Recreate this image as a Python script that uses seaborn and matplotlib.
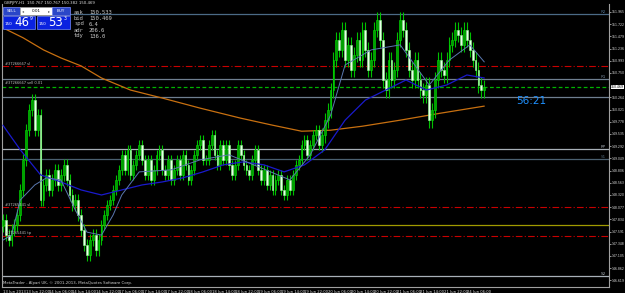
import matplotlib
matplotlib.use("Agg")
import matplotlib.pyplot as plt
import matplotlib.transforms as mtrans
from matplotlib.patches import Rectangle
import numpy as np
import pandas as pd
import seaborn as sns

# ---------------- data ----------------
close = [147.82, 147.52, 147.42, 147.62, 147.72,
         147.92, 148.42, 149.02, 149.61,
         150.01, 150.21, 149.61, 149.91,
         148.22,
         148.52, 148.72, 148.42, 148.62, 148.82, 148.52, 148.72,
         148.92, 148.62, 148.32, 148.12, 148.22, 147.92, 147.62,
         147.32, 147.12, 147.42, 147.52, 147.22, 147.42,
         147.72, 147.92, 148.12, 148.22, 148.42, 148.62, 148.82,
         149.12, 148.82, 149.22, 148.72, 148.92, 149.12, 149.32,
         149.02, 148.72, 149.02, 148.62, 148.82, 149.12, 149.22, 148.82,
         148.72, 149.02, 148.62, 148.82, 149.02, 148.72, 149.12,
         148.92, 148.62, 148.82, 149.12, 149.32, 149.41, 149.02, 149.02,
         149.32, 149.51, 149.12, 148.92, 149.32, 149.02, 149.32, 148.92,
         148.72, 148.92, 149.32, 149.12, 148.92, 148.82, 148.72, 149.02,
         149.22, 148.82, 148.62, 148.82, 148.52, 148.72, 148.42, 148.62,
         148.72, 148.42, 148.32, 148.62, 148.42, 148.72, 148.92,
         149.02, 149.32, 149.41, 149.12, 149.32, 149.51, 149.61, 149.32,
         149.51, 149.81, 150.01, 150.41, 151.01,
         151.41, 151.21, 151.61, 151.01, 151.31, 150.81, 151.11,
         151.41, 151.01, 151.61, 151.21, 150.81, 151.01, 151.61,
         151.81, 151.41, 150.61, 150.41, 151.01, 150.61, 150.81,
         151.41, 151.81, 151.61, 151.21, 150.81, 150.61, 151.01,
         150.61, 150.41, 150.31, 150.51, 149.81, 150.01,
         150.61, 151.01, 150.81, 150.70, 151.01, 151.31,
         151.41, 151.61, 151.51, 151.31, 151.61, 151.41, 151.21,
         151.01, 150.81, 150.51, 150.41, 150.469]
open_ = [147.70] + close[:-1]
wick = [0.12] * 34 + [0.10] * 76 + [0.15] * 57

ma_orange_idx = [0, 7, 14, 20, 27, 34, 44, 55, 68, 82, 93, 103, 113, 124, 137, 151, 166]
ma_orange_val = [151.65, 151.45, 151.21, 151.05, 150.89, 150.65, 150.41, 150.25, 150.05,
                 149.85, 149.71, 149.59, 149.61, 149.69, 149.81, 149.95, 150.09]
ma_blue_idx = [0, 6, 13, 20, 27, 34, 41, 48, 55, 62, 69, 76, 83, 90, 97, 104, 111, 118,
               125, 132, 139, 146, 153, 160, 166]
ma_blue_val = [149.71, 149.22, 148.72, 148.58, 148.42, 148.32, 148.42, 148.52, 148.58,
               148.66, 148.78, 148.92, 148.98, 148.92, 148.78, 148.92, 149.22, 149.81,
               150.21, 150.41, 150.61, 150.41, 150.51, 150.71, 150.65]
ma_fast_idx = [0, 3, 6, 11, 15, 20, 25, 29, 34, 38, 41, 47, 58, 68, 78, 89, 99, 106,
               113, 118, 127, 137, 147, 154, 161, 166]
ma_fast_val = [147.42, 147.52, 148.22, 148.52, 148.66, 148.62, 148.02, 147.58, 147.52,
               147.92, 148.32, 148.78, 148.82, 149.02, 149.12, 148.86, 148.62, 149.12,
               149.91, 150.91, 151.21, 151.31, 150.51, 151.01, 151.31, 150.97]

time_labels = ["13 Jun 2013", "13 Jun 22:00", "14 Jun 06:00", "14 Jun 14:00", "14 Jun 22:00",
               "17 Jun 06:00", "17 Jun 14:00", "17 Jun 22:00", "18 Jun 06:00", "18 Jun 14:00",
               "18 Jun 22:00", "19 Jun 06:00", "19 Jun 14:00", "19 Jun 22:00", "20 Jun 06:00",
               "20 Jun 14:00", "20 Jun 22:00", "21 Jun 06:00", "21 Jun 14:00", "21 Jun 22:00",
               "24 Jun 06:00"]
price_ticks = [151.965, 151.722, 151.479, 151.236, 150.993, 150.750, 150.264,
               150.021, 149.778, 149.535, 149.292, 149.049, 148.806, 148.563, 148.320,
               148.077, 147.834, 147.591, 147.348, 147.105, 146.862, 146.619]

levels_solid = [(151.925, "#4b6a86", "R2"), (150.630, "#6f7f90", "R1"), (150.272, "#6f7f90", ""),
                (149.236, "#a8b0b8", "PP"), (149.037, "#4b6070", "S1"), (146.706, "#a8b0b8", "S2")]
levels_red = [150.889, 148.081, 147.503]
level_olive = 147.722
bid, ask = 150.469, 150.533

# ---------------- figure ----------------
sns.set_theme(style="dark")
plt.rcParams['font.family'] = ['DejaVu Sans']
W, H = 625, 293
fig = plt.figure(figsize=(W / 100, H / 100), dpi=100, facecolor="black")
ax = fig.add_axes([2 / W, (H - 287) / H, 607 / W, 283 / H])
ax.set_facecolor("black")
ax.grid(False)

n = len(close)
xs = np.arange(n)
df = pd.DataFrame({"x": xs, "o": open_, "c": close, "w": wick})
df["top"] = df[["o", "c"]].max(axis=1)
df["bot"] = df[["o", "c"]].min(axis=1)
df["h"] = df["top"] + df["w"]
df["l"] = df["bot"] - df["w"]
df["up"] = df["c"] >= df["o"]

blend = mtrans.blended_transform_factory(ax.transAxes, ax.transData)

# reference lines (behind candles)
for p, col, lab in levels_solid:
    ax.axhline(p, color=col, lw=0.9, zorder=1)
    if lab:
        ax.text(0.995, p, lab, transform=blend, ha="right", va="bottom", fontsize=3, color=col)
for p in levels_red:
    ax.axhline(p, color="#c80000", lw=0.8, ls=(0, (6, 2, 1, 2)), zorder=1)
ax.axhline(level_olive, xmin=0.0, color="#a09a00", lw=0.9, zorder=1)
ax.axhline(bid, color="#00b400", lw=0.9, ls=(0, (3, 2)), zorder=1)

# candles
ax.vlines(df["x"], df["l"], df["h"], color="#00c000", lw=0.8, zorder=3)
up = df[df["up"]]
dn = df[~df["up"]]
ax.bar(up["x"], (up["top"] - up["bot"]).clip(lower=0.012), bottom=up["bot"], width=0.62,
       color="#00a000", edgecolor="#00e000", linewidth=0.4, zorder=4)
ax.bar(dn["x"], (dn["top"] - dn["bot"]).clip(lower=0.012), bottom=dn["bot"], width=0.62,
       color="#e8ffe8", edgecolor="#90ff90", linewidth=0.4, zorder=4)

# moving averages
sns.lineplot(x=ma_orange_idx, y=ma_orange_val, ax=ax, color="#c87010", lw=0.9, zorder=2)
sns.lineplot(x=ma_blue_idx, y=ma_blue_val, ax=ax, color="#1a1acc", lw=0.9, zorder=5)
sns.lineplot(x=ma_fast_idx, y=ma_fast_val, ax=ax, color="#5a78b0", lw=0.7, zorder=5)

ax.set_xlim(-0.3, 209.0)
ax.set_ylim(146.487, 152.124)
ax.set_xlabel("")
ax.set_ylabel("")

# axes styling
ax.spines["top"].set_visible(False)
for s in ["left", "right", "bottom"]:
    ax.spines[s].set_color("#a0a0a0")
    ax.spines[s].set_linewidth(0.8)
ax.yaxis.tick_right()
ax.set_yticks(price_ticks)
ax.set_yticklabels([f"{v:.3f}" for v in price_ticks])
ax.set_xticks(range(0, 8 * len(time_labels), 8))
ax.set_xticklabels(time_labels, ha="left")
ax.tick_params(axis="y", colors="#d0d0d0", labelsize=2.25, length=1.2, width=0.5, pad=0.5, labelcolor="#e0e0e0")
ax.tick_params(axis="x", colors="#d0d0d0", labelsize=2.7, length=2, width=0.5, pad=0.5, labelcolor="#e0e0e0")

ax.text(1.0035, bid, f"{bid:.3f}", transform=blend, fontsize=2.25, color="black", va="center",
        ha="left", bbox=dict(boxstyle="square,pad=0.1", fc="white", ec="none"), clip_on=False)

# helper: figure pixel coordinates
def fx(x):
    return x / W

def fy(y):
    return 1 - y / H

# title
fig.text(fx(4), fy(3), "GBPJPY,H1  150.767 150.767 150.382 150.469", fontsize=2.8,
         color="#e0e0e0", va="center")

# one-click panel
def rect(x0, y0, x1, y1, fc, ec):
    fig.patches.append(Rectangle((fx(x0), fy(y1)), (x1 - x0) / W, (y1 - y0) / H,
                                 transform=fig.transFigure, fc=fc, ec=ec, lw=0.5))

rect(3, 7, 20, 15, "#2a46c8", "#8090ff")
rect(20, 7, 52, 15, "#ffffff", "#a0a0a0")
rect(52, 7, 70, 15, "#2a46c8", "#8090ff")
rect(3, 16, 35, 29, "#0a22e0", "#7088ff")
rect(37, 16, 70, 29, "#0a22e0", "#7088ff")
fig.text(fx(11.5), fy(11), "SELL", fontsize=3, color="white", ha="center", va="center")
fig.text(fx(61), fy(11), "BUY", fontsize=3, color="white", ha="center", va="center")
fig.text(fx(36), fy(11), "0.01", fontsize=3, color="black", ha="center", va="center")
fig.text(fx(23), fy(11), "◂", fontsize=3, color="#606060", ha="center", va="center")
fig.text(fx(49), fy(11), "▸", fontsize=3, color="#606060", ha="center", va="center")
fig.text(fx(5), fy(24), "150", fontsize=3, color="white", va="center")
fig.text(fx(14), fy(22.5), "46", fontsize=8.5, color="white", va="center")
fig.text(fx(30), fy(18.5), "9", fontsize=3.3, color="white", va="center")
fig.text(fx(39), fy(24), "150", fontsize=3, color="white", va="center")
fig.text(fx(48), fy(22.5), "53", fontsize=8.5, color="white", va="center")
fig.text(fx(64), fy(18.5), "3", fontsize=3.3, color="white", va="center")

info = [("ask", "150.533"), ("bid", "150.469"), ("spd", "6.4"), ("adr", "206.6"), ("tdy", "136.0")]
for k, (a, b) in enumerate(info):
    yy = 12 + 6 * k
    fig.text(fx(74), fy(yy), a, fontsize=4, color="#c8c8c8", va="center", family="DejaVu Sans Mono")
    fig.text(fx(89), fy(yy), b, fontsize=4, color="#c8c8c8", va="center", family="DejaVu Sans Mono")

# order labels on the left
for y, t in [(64, "#37266667 sl"), (83, "#37266667 sell 0.01"), (205, "#37265441 sl"), (233, "#37265441 tp")]:
    fig.text(fx(5), fy(y), t, fontsize=2.6, color="#c0c0c0", va="center")

# countdown
fig.text(fx(516), fy(101), "56:21", fontsize=7.5, color="#1e90ff", va="center")

# copyright
fig.text(fx(3), fy(283), "MetaTrader - Alpari UK, © 2001-2013, MetaQuotes Software Corp.",
         fontsize=2.8, color="#d0d0d0", va="center")

fig.savefig("out.png", dpi=100, facecolor="black")
